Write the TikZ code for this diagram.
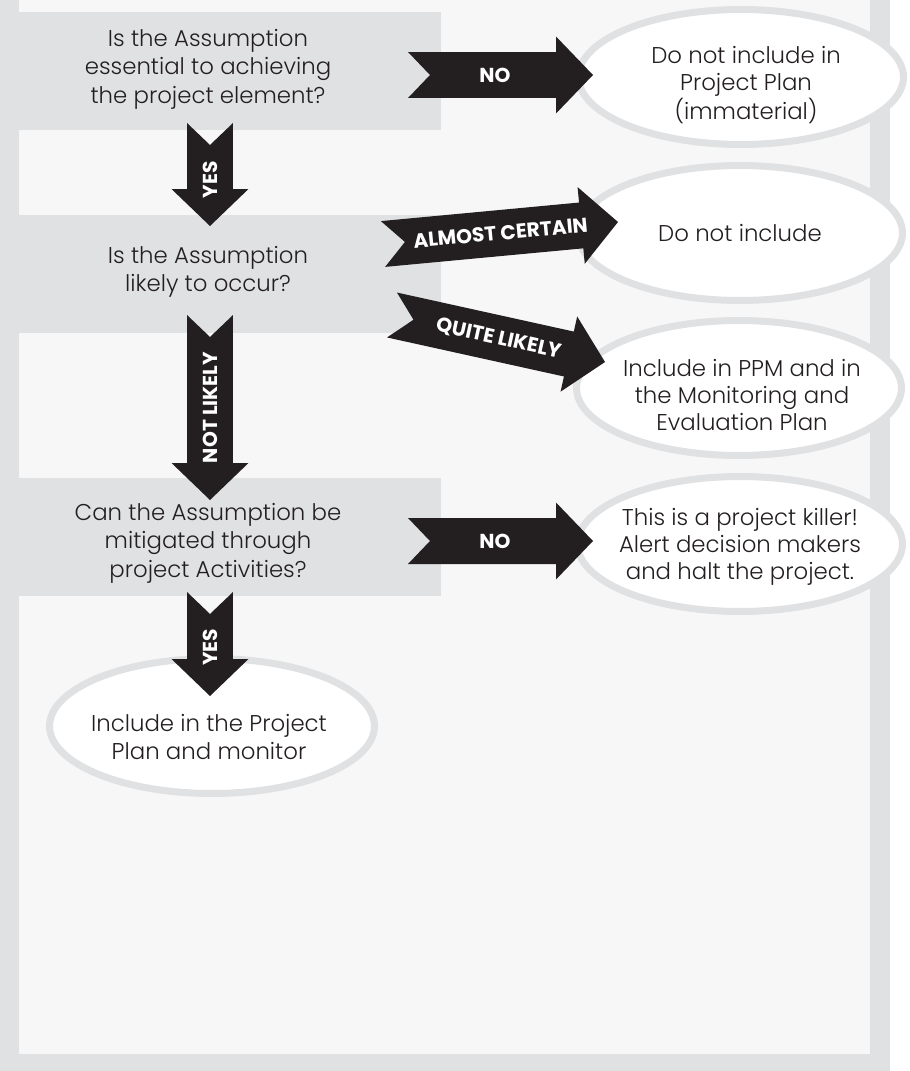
\documentclass[tikz,border=0pt]{standalone}
\usepackage{fontspec}
\IfFontExistsTF{Poppins Light}{%
	\IfFontExistsTF{Poppins Bold}{\setmainfont{Poppins Light}[BoldFont={Poppins Bold}]}{\setmainfont{Poppins Light}}%
}{\setmainfont{Poppins}}
\usetikzlibrary{shapes.geometric,calc}

\definecolor{framegray}{RGB}{224,225,227}
\definecolor{panelgray}{RGB}{247,247,247}
\definecolor{inkblack}{RGB}{35,31,32}

% block arrow from tail #2 to tip #3, label #4
\newcommand{\bigarrow}[4][]{%
	\fill[inkblack] ($(#2)!0.46cm!90:(#3)$) -- ($(#3)!0.74cm!(#2)!0.46cm!90:(#3)$) -- ($(#3)!0.74cm!(#2)!0.77cm!90:(#3)$) -- (#3)
		-- ($(#3)!0.74cm!(#2)!0.77cm!-90:(#3)$) -- ($(#3)!0.74cm!(#2)!0.46cm!-90:(#3)$) -- ($(#2)!0.46cm!-90:(#3)$) -- ($(#2)!0.44cm!(#3)$) -- cycle;
	\path (#2) -- (#3) node[arrowlabel, sloped, pos=0.5, #1] {#4};
}

\begin{document}
\begin{tikzpicture}[x=0.02cm, y=-0.02cm]
	\tikzstyle{question} = [font=\fontsize{13}{16.2}\selectfont, text=inkblack, align=center];
	\tikzstyle{answer} = [ellipse, draw=framegray, line width=0.14cm, fill=white, minimum width=6.5cm, minimum height=2.7cm, inner sep=0pt];
	\tikzstyle{answertext} = [font=\fontsize{13}{15.4}\selectfont, text=inkblack, align=center, inner sep=0pt];
	\tikzstyle{arrowlabel} = [font=\fontsize{11.5}{12}\selectfont\bfseries, text=white, inner sep=0pt];

	\useasboundingbox (0,0) rectangle (909,1071);
	\fill[white] (0,0) rectangle (909,1071);
	\fill[framegray] (0,0) rectangle (890,1071);
	\fill[panelgray] (19,0) rectangle (870,1054);

	% questions
	\fill[framegray] (19,12) rectangle (441,130);
	\fill[framegray] (19,215) rectangle (441,333);
	\fill[framegray] (19,478) rectangle (441,596);

	\node[question] at (208, 69) (essential) {Is the Assumption\\essential to achieving\\the project element?};
	\node[question] at (208, 272) (likely) {Is the Assumption\\likely to occur?};
	\node[question] at (208, 543) (mitigate) {Can the Assumption be\\mitigated through\\project Activities?};

	% answers
	\node[answer] at (741, 77) (immat) {};
	\node[answer] at (740, 233) (noinc) {};
	\node[answer] at (739, 388) (ppm) {};
	\node[answer] at (740, 544) (killer) {};
	\node[answer] at (212, 726) (plan) {};

	\node[answertext] at (746, 85) (immattext) {Do not include in\\Project Plan\\(immaterial)};
	\node[answertext] at (740, 233) (noinctext) {Do not include};
	\node[answertext] at (742, 395) (ppmtext) {Include in PPM and in\\the Monitoring and\\Evaluation Plan};
	\node[answertext] at (740, 547) (killertext) {This is a project killer!\\Alert decision makers\\and halt the project.};
	\node[answertext] at (209, 737) (plantext) {Include in the Project\\Plan and monitor};

	% arrows
	\coordinate (ya) at (210, 123);
	\coordinate (yb) at (210, 226);
	\coordinate (na) at (408, 75);
	\coordinate (nb) at (593, 75);
	\coordinate (aca) at (383, 244);
	\coordinate (acb) at (618, 222);
	\coordinate (qla) at (392, 315);
	\coordinate (qlb) at (605, 362);
	\coordinate (nla) at (210, 315);
	\coordinate (nlb) at (210, 500);
	\coordinate (nna) at (408, 541);
	\coordinate (nnb) at (593, 541);
	\coordinate (y2a) at (210, 592);
	\coordinate (y2b) at (210, 696);

	\bigarrow[pos=0.55, rotate=180]{ya}{yb}{YES}
	\bigarrow[pos=0.47]{na}{nb}{NO}
	\bigarrow{aca}{acb}{ALMOST CERTAIN}
	\bigarrow{qla}{qlb}{QUITE LIKELY}
	\bigarrow[rotate=180]{nla}{nlb}{NOT LIKELY}
	\bigarrow[pos=0.47]{nna}{nnb}{NO}
	\bigarrow[pos=0.53, rotate=180]{y2a}{y2b}{YES}

\end{tikzpicture}
\end{document}
